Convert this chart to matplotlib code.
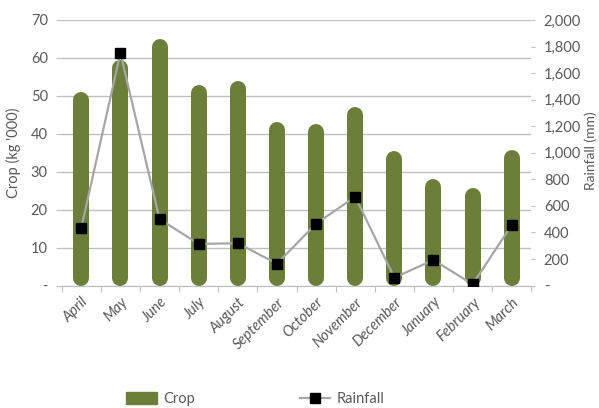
import numpy as np
import matplotlib.pyplot as plt
from matplotlib.patches import Patch
from matplotlib.lines import Line2D
from matplotlib.ticker import FuncFormatter

# DATA
months = ["April", "May", "June", "July", "August", "September", "October",
          "November", "December", "January", "February", "March"]
crop = [51.1, 59.5, 65.0, 52.9, 53.9, 43.2, 42.6, 47.2, 35.5, 28.1, 25.8, 35.7]
rainfall = [434, 1752, 501, 314, 319, 165, 466, 669, 60, 193, 10, 456]

# STYLE
plt.rcParams['font.family'] = ['Lato', 'DejaVu Sans']
green = "#6B7F3A"
grid_c = "#BFBFBF"
text_c = "#595959"

fig = plt.figure(figsize=(5.99, 4.08), dpi=100)
ax = fig.add_axes([0.103, 0.300, 0.784, 0.651])
ax2 = ax.twinx()

x = np.arange(len(months))
ax.set_xlim(-0.5, len(months) - 0.5)
ax.set_ylim(0, 70)
ax2.set_ylim(0, 2000)

# Rounded bars: thick lines with round caps, shortened by the cap radius
bar_px = 16
axes_h_px = fig.get_figheight() * fig.dpi * 0.651
r = (bar_px / 2) / axes_h_px * 70
crop_arr = np.array(crop)
ax.vlines(x, r, crop_arr - r, colors=green, linewidth=bar_px * 72 / fig.dpi,
          capstyle='round', zorder=3)

# Rainfall line
ax2.plot(x, rainfall, color="#A6A6A6", lw=1.6, marker='s', ms=6.5,
         mfc='k', mec='k', zorder=4)

# Axes styling
dash = lambda v, p: "-" if v == 0 else f"{v:,.0f}"
ax.set_yticks(np.arange(0, 71, 10))
ax.yaxis.set_major_formatter(FuncFormatter(dash))
ax2.set_yticks(np.arange(0, 2001, 200))
ax2.yaxis.set_major_formatter(FuncFormatter(dash))
ax.grid(axis='y', color=grid_c, lw=1, zorder=0)
ax.set_axisbelow(True)

ax.set_xticks(np.arange(-0.5, len(months), 1), minor=False)
ax.set_xticklabels([])
ax.set_xticks(x, minor=True)
ax.set_xticklabels(months, minor=True, rotation=45, ha='right',
                   rotation_mode='anchor', style='italic', fontsize=10.5,
                   color=text_c)
ax.tick_params(axis='x', which='minor', length=0, pad=7)
ax.tick_params(axis='x', which='major', length=4, color=grid_c, direction='out')
ax.tick_params(axis='y', length=4, color=grid_c, labelsize=10.5, labelcolor=text_c, pad=6)
ax2.tick_params(axis='y', length=3, color=grid_c, labelsize=10.5, labelcolor=text_c, pad=6)

for a in (ax, ax2):
    for s in ("top", "left", "right"):
        a.spines[s].set_visible(False)
    a.spines["bottom"].set_color(grid_c)
ax2.spines["bottom"].set_visible(False)

ax.set_ylabel("Crop (kg '000)", fontsize=10.5, color=text_c, labelpad=7)
fig.text(0.986, 0.63, "Rainfall (mm)", rotation=90, fontsize=10, color=text_c,
         ha='center', va='center')

# Legend
handles = [Patch(color=green, label="Crop"),
           Line2D([0], [0], color="#A6A6A6", lw=1.6, marker='s', ms=6.5,
                  mfc='k', mec='k', label="Rainfall")]
fig.legend(handles=handles, loc='center', bbox_to_anchor=(0.426, 0.022), ncol=2,
           frameon=False, fontsize=10.5, handlelength=2.1, handleheight=0.9,
           handletextpad=0.4, columnspacing=7.2, labelcolor=text_c)

fig.savefig("out.png", dpi=100)
